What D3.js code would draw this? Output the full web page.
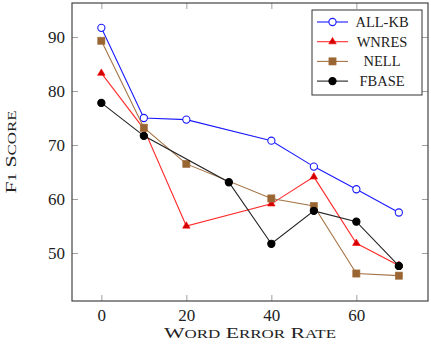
<!DOCTYPE html>
<html>
<head>
<meta charset="utf-8">
<script src="https://cdn.jsdelivr.net/npm/d3@7"></script>
<style>
  body { margin: 0; background: #fff; }
  svg { display: block; }
  svg text { font-family: "Liberation Serif", serif !important; fill: #222; }
</style>
</head>
<body>
<div id="chart"></div>
<script>
// data
const xTicks = [0, 20, 40, 60];
const yTicks = [50, 60, 70, 80, 90];

const allkbX = [0, 10, 20, 40, 50, 60, 70];
const allkbY = [91.7, 75.0, 74.7, 70.8, 66.0, 61.8, 57.5];

const wnresX = [0, 10, 20, 40, 50, 60, 70];
const wnresY = [83.3, 73.0, 55.0, 59.1, 64.1, 51.8, 47.7];

const nellX = [0, 10, 20, 40, 50, 60, 70];
const nellY = [89.3, 73.2, 66.5, 60.1, 58.7, 46.2, 45.8];

const fbaseX = [0, 10, 30, 40, 50, 60, 70];
const fbaseY = [77.8, 71.7, 63.1, 51.7, 57.8, 55.8, 47.6];

const seriesNames = ["ALL-KB", "WNRES", "NELL", "FBASE"];

const series = [
  { name: seriesNames[0], xs: allkbX, ys: allkbY, line: "#1a1aff", stroke: "#1a1aff", fill: "#fff", mark: "circle" },
  { name: seriesNames[1], xs: wnresX, ys: wnresY, line: "#ff2a2a", stroke: "#ff0000", fill: "#d00000", mark: "triangle" },
  { name: seriesNames[2], xs: nellX, ys: nellY, line: "#a57345", stroke: "#a57040", fill: "#996633", mark: "square" },
  { name: seriesNames[3], xs: fbaseX, ys: fbaseY, line: "#222", stroke: "#000", fill: "#000", mark: "circle" }
];

const width = 431, height = 350;

const svg = d3.select("#chart").append("svg")
  .attr("width", width)
  .attr("height", height);

const x = d3.scaleLinear().domain([-7, 77]).range([71.6, 428.6]);
const y = d3.scaleLinear().domain([41.2, 96.3]).range([300.5, 3]);

const x0 = 72, x1 = 428, y0 = 3, y1 = 301;

// axes with inward ticks
const tickLen = 6;
const gx = svg.append("g").attr("transform", `translate(0,${y1})`)
  .call(d3.axisBottom(x).tickValues(xTicks).tickSizeInner(-tickLen).tickSizeOuter(0).tickPadding(8));
const gxTop = svg.append("g").attr("transform", `translate(0,${y0})`)
  .call(d3.axisTop(x).tickValues(xTicks).tickSizeInner(-tickLen).tickSizeOuter(0).tickFormat(""));
const gy = svg.append("g").attr("transform", `translate(${x0},0)`)
  .call(d3.axisLeft(y).tickValues(yTicks).tickSizeInner(-tickLen).tickSizeOuter(0).tickPadding(7));
const gyRight = svg.append("g").attr("transform", `translate(${x1},0)`)
  .call(d3.axisRight(y).tickValues(yTicks).tickSizeInner(-tickLen).tickSizeOuter(0).tickFormat(""));

[gx, gxTop, gy, gyRight].forEach(g => {
  g.attr("font-family", null);
  g.select(".domain").remove();
  g.selectAll(".tick line").attr("stroke", "#888").attr("stroke-width", 0.8);
  g.selectAll(".tick text").attr("font-size", 17).style("font-size", "17px").attr("fill", "#222");
});

// frame
svg.append("rect")
  .attr("x", x0).attr("y", y0)
  .attr("width", x1 - x0).attr("height", y1 - y0)
  .attr("fill", "none").attr("stroke", "#444").attr("stroke-width", 1.2);

// small caps built by hand: capitals big, rest smaller uppercase
function smallCaps(t, str, big, small) {
  str.split(" ").forEach((w, i) => {
    t.append("tspan").attr("font-size", big).text((i ? " " : "") + w[0]);
    t.append("tspan").attr("font-size", small).text(w.slice(1).toUpperCase());
  });
}

const xt = svg.append("text")
  .attr("x", (x0 + x1) / 2).attr("y", 338)
  .attr("text-anchor", "middle")
  .attr("textLength", 172)
  .attr("lengthAdjust", "spacingAndGlyphs");
smallCaps(xt, "Word Error Rate", 15.5, 12);

const yt = svg.append("text")
  .attr("transform", `translate(15.5,${(y0 + y1) / 2}) rotate(-90)`)
  .attr("text-anchor", "middle")
  .attr("textLength", 83)
  .attr("lengthAdjust", "spacingAndGlyphs");
smallCaps(yt, "F1 Score", 15.5, 12);

function drawMark(g, type, cx, cy, s) {
  if (type === "circle") {
    g.append("circle").attr("cx", cx).attr("cy", cy).attr("r", 3.6)
      .attr("fill", s.fill).attr("stroke", s.stroke).attr("stroke-width", 1.1);
  } else if (type === "square") {
    g.append("rect").attr("x", cx - 3.6).attr("y", cy - 3.6).attr("width", 7.2).attr("height", 7.2)
      .attr("fill", s.fill).attr("stroke", s.stroke).attr("stroke-width", 0.6);
  } else {
    const r = 4.3;
    const pts = [[cx, cy - r], [cx - r * 0.87, cy + r * 0.5], [cx + r * 0.87, cy + r * 0.5]];
    g.append("polygon").attr("points", pts.map(p => p.join(",")).join(" "))
      .attr("fill", s.fill).attr("stroke", s.stroke).attr("stroke-width", 0.6);
  }
}

const line = d3.line().x(d => x(d[0])).y(d => y(d[1]));
const plot = svg.append("g");

series.forEach(s => {
  const pts = s.xs.map((v, i) => [v, s.ys[i]]);
  plot.append("path").datum(pts)
    .attr("d", line)
    .attr("fill", "none")
    .attr("stroke", s.line)
    .attr("stroke-width", 1.1);
  const mg = plot.append("g");
  pts.forEach(p => drawMark(mg, s.mark, x(p[0]), y(p[1]), s));
});

// legend
const lg = svg.append("g");
lg.append("rect")
  .attr("x", 312).attr("y", 10).attr("width", 110).attr("height", 85)
  .attr("fill", "#fff").attr("stroke", "#333").attr("stroke-width", 1);

series.forEach((s, i) => {
  const cy = 22 + i * 19.7;
  lg.append("line")
    .attr("x1", 317).attr("x2", 348).attr("y1", cy).attr("y2", cy)
    .attr("stroke", s.line).attr("stroke-width", 1.1);
  drawMark(lg, s.mark, 332.5, cy, s);
  lg.append("text")
    .attr("x", 382).attr("y", cy)
    .attr("dy", "0.35em")
    .attr("text-anchor", "middle")
    .attr("font-size", 14.5)
    .text(s.name);
});
</script>
</body>
</html>
